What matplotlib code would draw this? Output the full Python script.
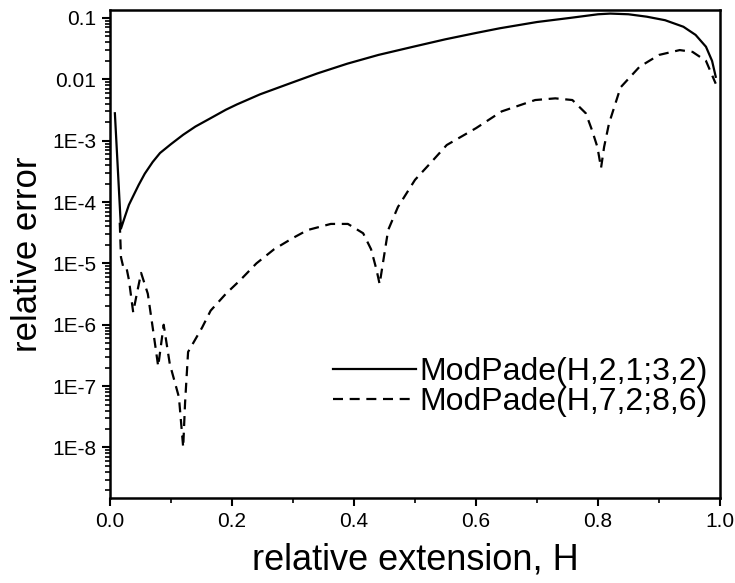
import numpy as np
import matplotlib
matplotlib.use("Agg")
import matplotlib.pyplot as plt
from matplotlib.ticker import LogLocator, FixedLocator, MultipleLocator, NullFormatter

plt.rcParams['font.family'] = ['Liberation Sans', 'DejaVu Sans']

# -------------------- 数据 --------------------
h_solid = [0.008, 0.018, 0.025, 0.031, 0.038, 0.047, 0.057, 0.07, 0.082, 0.10,
           0.12, 0.14, 0.164, 0.19, 0.208, 0.246, 0.295, 0.34, 0.389, 0.44,
           0.497, 0.55, 0.60, 0.639, 0.70, 0.753, 0.80, 0.82, 0.85, 0.88,
           0.91, 0.94, 0.96, 0.977, 0.987, 0.993]
err_solid = [2.8e-3, 3.7e-5, 6e-5, 9e-5, 1.25e-4, 1.9e-4, 2.9e-4, 4.5e-4, 6.3e-4, 8.8e-4,
             1.25e-3, 1.7e-3, 2.3e-3, 3.2e-3, 3.9e-3, 5.7e-3, 8.6e-3, 0.0125, 0.018, 0.025,
             0.034, 0.045, 0.057, 0.068, 0.086, 0.10, 0.115, 0.118, 0.115, 0.105,
             0.092, 0.072, 0.053, 0.034, 0.02, 0.011]

h_dash = [0.016, 0.018, 0.022, 0.027, 0.031, 0.038, 0.044, 0.051, 0.062, 0.07,
          0.079, 0.088, 0.098, 0.113, 0.12, 0.123, 0.128, 0.151, 0.165, 0.19, 0.214,
          0.24, 0.269, 0.30, 0.324, 0.362, 0.39, 0.415, 0.428, 0.437, 0.442, 0.448, 0.456,
          0.472, 0.50, 0.527, 0.552, 0.60, 0.642, 0.697, 0.73, 0.758, 0.78,
          0.79, 0.799, 0.805, 0.81, 0.818, 0.837, 0.868, 0.90, 0.934, 0.955,
          0.977, 0.993]
err_dash = [4.6e-5, 1.26e-5, 8.5e-6, 8.5e-6, 5.4e-6, 1.6e-6, 3.2e-6, 7.0e-6, 3.2e-6, 9e-7,
            2.1e-7, 1.0e-6, 2.3e-7, 6.6e-8, 1.0e-8, 5.2e-8, 3.6e-7, 9e-7, 1.7e-6, 3.2e-6, 5.4e-6,
            1.0e-5, 1.7e-5, 2.6e-5, 3.5e-5, 4.4e-5, 4.4e-5, 3.1e-5, 1.7e-5, 7.8e-6, 4.6e-6, 1.1e-5, 3.5e-5,
            8.3e-5, 2.3e-4, 4.5e-4, 8.5e-4, 1.6e-3, 3.0e-3, 4.6e-3, 4.9e-3, 4.6e-3, 2.8e-3,
            1.5e-3, 7.9e-4, 3.6e-4, 7.9e-4, 1.9e-3, 7.4e-3, 0.016, 0.025, 0.030, 0.028,
            0.020, 0.0085]

labels = ['ModPade(H,2,1;3,2)', 'ModPade(H,7,2;8,6)']
y_major = [1e-8, 1e-7, 1e-6, 1e-5, 1e-4, 1e-3, 1e-2, 1e-1]
y_ticklabels = ['1E-8', '1E-7', '1E-6', '1E-5', '1E-4', '1E-3', '0.01', '0.1']

# -------------------- 绘图 --------------------
fig = plt.figure(figsize=(7.35, 5.83), dpi=100)
ax = fig.add_axes([110 / 735, 1 - 498 / 583, 610 / 735, 488 / 583])

ax.plot(h_solid, err_solid, color='black', lw=1.6, label=labels[0])
ax.plot(h_dash, err_dash, color='black', lw=1.6, dashes=(4.5, 3), label=labels[1])

ax.set_yscale('log')
ax.set_xlim(0.0, 1.0)
ax.set_ylim(1.5e-9, 0.135)

ax.yaxis.set_major_locator(FixedLocator(y_major))
ax.set_yticklabels(y_ticklabels)
ax.yaxis.set_minor_locator(LogLocator(base=10, subs=np.arange(2, 10) * 1.0, numticks=30))
ax.yaxis.set_minor_formatter(NullFormatter())
ax.xaxis.set_major_locator(MultipleLocator(0.2))
ax.xaxis.set_minor_locator(MultipleLocator(0.1))
ax.xaxis.set_major_formatter(plt.FuncFormatter(lambda v, p: f"{v:.1f}"))

ax.tick_params(which='major', direction='out', length=6, width=1.5, labelsize=15, pad=4)
ax.tick_params(which='minor', direction='out', length=3.5, width=1.2)
for s in ax.spines.values():
    s.set_linewidth(1.8)

ax.set_xlabel('relative extension, H', fontsize=26, labelpad=8)
ax.set_ylabel('relative error', fontsize=25, labelpad=6)

ax.legend(loc='center right', bbox_to_anchor=(0.98, 0.228), frameon=False, fontsize=23,
          handlelength=2.6, handletextpad=0.1, labelspacing=0.0, borderaxespad=0,
          borderpad=0)

fig.savefig('out.png', dpi=100)
